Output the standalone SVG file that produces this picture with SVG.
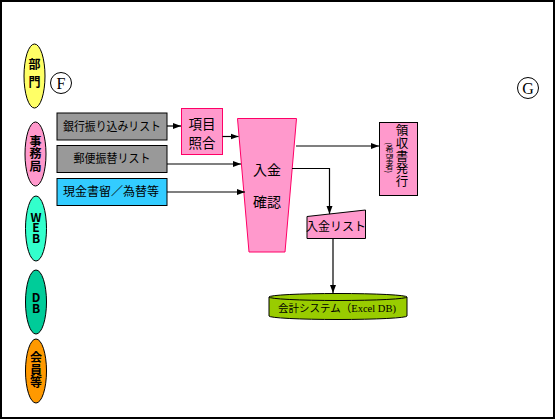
<svg xmlns="http://www.w3.org/2000/svg" width="556" height="420" viewBox="0 0 556 420">
<style>
.jp{font-family:"Noto Sans CJK JP","Liberation Sans",sans-serif;fill:#000}
.b{font-weight:bold}
.v{writing-mode:vertical-rl;text-orientation:upright}
.vm{writing-mode:vertical-rl}
.ser{font-family:"Liberation Serif",serif;fill:#000}
.ln{fill:none;stroke:#000;stroke-width:1.2}
.box{stroke:#000;stroke-width:1}
.pk{fill:#FF99CC}
</style>
<defs>
<marker id="ah" viewBox="0 0 8 8" refX="8" refY="4" markerWidth="8" markerHeight="8" markerUnits="userSpaceOnUse" orient="auto">
<path d="M0,1 L8,4 L0,7 Z" fill="#000"/>
</marker>
</defs>
<rect x="1" y="1" width="553" height="417" fill="#fff" stroke="#000" stroke-width="2"/>

<g id="bumon">
<ellipse cx="34.5" cy="76" rx="10.5" ry="32" fill="#FFFF66" stroke="#000"/>
<text class="jp b v" font-size="12" text-anchor="middle" x="34.5" y="76" letter-spacing="6">部門</text>
</g>
<g id="jimukyoku">
<ellipse cx="35.5" cy="154" rx="10.5" ry="32" class="pk" stroke="#000"/>
<text class="jp b v" font-size="12" text-anchor="middle" x="35.5" y="154" letter-spacing="0.5">事務局</text>
</g>
<g id="web">
<ellipse cx="36" cy="228.5" rx="10.5" ry="32.5" fill="#33FFCC" stroke="#000"/>
<text class="jp b v" font-size="12" text-anchor="middle" x="36" y="227" letter-spacing="-1.5">WEB</text>
</g>
<g id="db">
<ellipse cx="36" cy="302" rx="10.5" ry="32" fill="#00CC99" stroke="#000"/>
<text class="jp b v" font-size="12" text-anchor="middle" x="36" y="302" letter-spacing="-1.5">DB</text>
</g>
<g id="kaiin">
<ellipse cx="36" cy="371" rx="10.5" ry="32" fill="#FF9900" stroke="#000"/>
<text class="jp b v" font-size="12" text-anchor="middle" x="36" y="370.5" letter-spacing="0.5">会員等</text>
</g>

<g id="labelF">
<circle cx="61" cy="83" r="10.5" fill="#fff" stroke="#000"/>
<text class="ser" font-size="16" text-anchor="middle" x="61" y="88.5">F</text>
</g>
<g id="labelG">
<circle cx="528" cy="88" r="10.5" fill="#fff" stroke="#000"/>
<text class="ser" font-size="16" text-anchor="middle" x="528" y="93.5">G</text>
</g>

<g id="ginko">
<rect x="57" y="113" width="110" height="27" fill="#999999" class="box"/>
<text class="jp" font-size="12" text-anchor="middle" x="112" y="130.5" textLength="98" lengthAdjust="spacingAndGlyphs">銀行振り込みリスト</text>
</g>
<g id="yubin">
<rect x="57" y="145.5" width="110" height="27" fill="#999999" class="box"/>
<text class="jp" font-size="12" text-anchor="middle" x="112" y="163" textLength="77" lengthAdjust="spacingAndGlyphs">郵便振替リスト</text>
</g>
<g id="genkin">
<rect x="57" y="178.5" width="110" height="27" fill="#33CCFF" class="box"/>
<text class="jp" font-size="12" text-anchor="middle" x="111" y="196" textLength="96" lengthAdjust="spacingAndGlyphs">現金書留／為替等</text>
</g>

<g id="shogo">
<rect x="181.5" y="108.5" width="41" height="46" class="pk" stroke="#FF0066" stroke-width="1"/>
<text class="jp" font-size="13.5" text-anchor="middle"><tspan x="202" y="129">項目</tspan><tspan x="202" y="148">照合</tspan></text>
</g>

<g id="nyukin-kakunin">
<polygon points="237.5,118.5 296.5,118.5 285,252 249,252" class="pk" stroke="#FF0066" stroke-width="1"/>
<text class="jp" font-size="14" text-anchor="middle"><tspan x="267" y="175">入金</tspan><tspan x="267" y="207">確認</tspan></text>
</g>

<g id="ryoshusho">
<rect x="379.5" y="122.5" width="38" height="73" class="pk box"/>
<text class="jp vm" font-size="12.5" text-anchor="middle" x="402" y="156" letter-spacing="0.3">領収書発行</text>
<text class="jp vm" font-size="8" text-anchor="middle" x="389.5" y="158" letter-spacing="0.4">(希望者)</text>
</g>

<g id="nyukin-list">
<polygon points="307,216.5 365.5,210 365.5,238.5 307,238.5" class="pk box"/>
<text class="jp" font-size="12" text-anchor="middle" x="336" y="231">入金リスト</text>
</g>

<g id="kaikei">
<path d="M269,297 A69,3.5 0 0 1 407,297 V316 A69,3.5 0 0 1 269,316 Z" fill="#99CC00" stroke="#000"/>
<path d="M269,297 A69,3.5 0 0 0 407,297" fill="none" stroke="#000"/>
<text font-size="10.5" text-anchor="middle" x="337" y="312"><tspan class="jp">会計システム（</tspan><tspan class="ser">Excel DB)</tspan></text>
</g>

<g id="connectors">
<line class="ln" x1="167" y1="126" x2="181" y2="126" marker-end="url(#ah)"/>
<line class="ln" x1="222.5" y1="136.5" x2="238.5" y2="136.5" marker-end="url(#ah)"/>
<line class="ln" x1="167" y1="164" x2="241" y2="164" marker-end="url(#ah)"/>
<line class="ln" x1="167" y1="192" x2="245" y2="192" marker-end="url(#ah)"/>
<line class="ln" x1="296" y1="146" x2="379" y2="146" marker-end="url(#ah)"/>
<path class="ln" d="M292,168.5 H329.5 V214" marker-end="url(#ah)"/>
<line class="ln" x1="333" y1="238.5" x2="333" y2="293" marker-end="url(#ah)"/>
</g>
</svg>
